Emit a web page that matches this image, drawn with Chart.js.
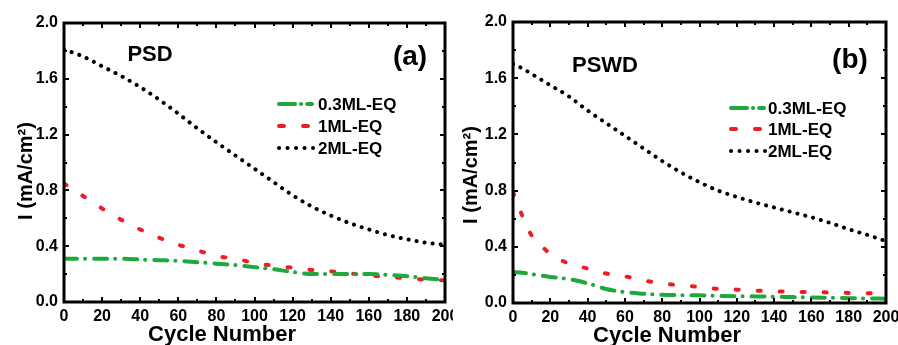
<!DOCTYPE html>
<html>
<head>
<meta charset="utf-8">
<script src="https://cdn.jsdelivr.net/npm/chart.js@4"></script>
<style>
  body { margin: 0; background: #fff; }
  #wrap { position: relative; width: 898px; height: 345px; overflow: hidden; background: #fff; }
  canvas { position: absolute; top: 0; }
  #chartA { left: 0; }
  #chartB { left: 450px; }
</style>
</head>
<body>
<div id="wrap">
  <canvas id="chartA" width="453" height="345"></canvas>
  <canvas id="chartB" width="448" height="345"></canvas>
</div>
<script>
// values
const seriesNames = ['0.3ML-EQ', '1ML-EQ', '2ML-EQ'];
const xTicks = [0, 20, 40, 60, 80, 100, 120, 140, 160, 180, 200];
const yTicks = [0, 0.4, 0.8, 1.2, 1.6, 2.0];

// (a) PSD
const cyclesA = [0, 10, 20, 30, 40, 50, 60, 70, 80, 90, 100, 110, 120, 130, 140, 150, 160, 170, 180, 190, 200];
const psd03 = [0.31, 0.31, 0.31, 0.31, 0.305, 0.30, 0.295, 0.285, 0.275, 0.265, 0.25, 0.235, 0.215, 0.20, 0.20, 0.20, 0.20, 0.195, 0.185, 0.17, 0.16];
const psd1 = [0.85, 0.76, 0.67, 0.59, 0.52, 0.46, 0.41, 0.37, 0.33, 0.31, 0.28, 0.26, 0.245, 0.23, 0.22, 0.205, 0.19, 0.18, 0.17, 0.16, 0.155];
const psd2 = [1.81, 1.76, 1.69, 1.62, 1.54, 1.45, 1.35, 1.245, 1.145, 1.05, 0.955, 0.86, 0.765, 0.685, 0.62, 0.565, 0.52, 0.48, 0.45, 0.425, 0.41];

// (b) PSWD
const cyclesB = [0, 5, 10, 15, 20, 30, 40, 50, 60, 70, 80, 90, 100, 110, 120, 130, 140, 150, 160, 170, 180, 190, 200];
const pswd03 = [0.22, 0.215, 0.205, 0.195, 0.185, 0.17, 0.14, 0.10, 0.077, 0.066, 0.058, 0.056, 0.055, 0.05, 0.048, 0.047, 0.045, 0.042, 0.04, 0.037, 0.034, 0.032, 0.031];
const pswd1 = [0.79, 0.62, 0.48, 0.41, 0.35, 0.28, 0.245, 0.21, 0.19, 0.16, 0.14, 0.125, 0.115, 0.10, 0.095, 0.088, 0.083, 0.08, 0.078, 0.075, 0.072, 0.07, 0.068];
const pswd2 = [1.70, 1.67, 1.63, 1.59, 1.55, 1.47, 1.37, 1.28, 1.19, 1.10, 1.01, 0.93, 0.86, 0.80, 0.755, 0.715, 0.68, 0.645, 0.61, 0.57, 0.525, 0.485, 0.44];

const FONT = "'Liberation Sans', Arial, sans-serif";

// line looks: green dash-dot, red dash, black dot
const styles = [
  { color: '#1fa83c', width: 4, dash: [13, 8, 0.1, 9], legendDash: [16, 6, 0.1, 6], legendLen: 33 },
  { color: '#ee1c24', width: 4, dash: [3, 19], legendDash: [5, 19], legendLen: 29 },
  { color: '#000000', width: 4, dash: [0.1, 8], legendDash: [0.1, 8.4], legendLen: 34 }
];

function makeSets(xs, ...cols) {
  return cols.map((col, i) => ({
    label: seriesNames[i],
    data: xs.map((x, j) => ({ x: x, y: col[j] })),
    borderColor: styles[i].color,
    borderWidth: styles[i].width,
    borderDash: styles[i].dash,
    borderCapStyle: 'round',
    pointRadius: 0,
    fill: false,
    tension: 0.4,
    cubicInterpolationMode: 'monotone'
  }));
}

function midpoints(arr) {
  const out = [];
  for (let i = 0; i < arr.length - 1; i++) out.push((arr[i] + arr[i + 1]) / 2);
  return out;
}

// frame with inward ticks on all four sides, plus texts and legend
const decorPlugin = {
  id: 'decor',
  afterDatasetsDraw(chart) {
    const { ctx, chartArea: a, scales: { x, y } } = chart;
    ctx.save();
    ctx.strokeStyle = '#000';
    ctx.lineWidth = 2;
    ctx.setLineDash([]);
    const tick = (x0, y0, x1, y1) => { ctx.beginPath(); ctx.moveTo(x0, y0); ctx.lineTo(x1, y1); ctx.stroke(); };
    const xs = [[xTicks, 5], [midpoints(xTicks), 3]];
    const ys = [[yTicks, 5], [midpoints(yTicks), 3]];
    xs.forEach(([vals, len]) => vals.forEach(v => {
      const px = Math.round(x.getPixelForValue(v));
      tick(px, a.bottom, px, a.bottom - len);
      tick(px, a.top, px, a.top + len);
    }));
    ys.forEach(([vals, len]) => vals.forEach(v => {
      const py = Math.round(y.getPixelForValue(v));
      tick(a.left, py, a.left + len, py);
      tick(a.right, py, a.right - len, py);
    }));
    ctx.lineWidth = 3;
    ctx.strokeRect(a.left, a.top, a.right - a.left, a.bottom - a.top);
    ctx.restore();
  },
  afterDraw(chart, args, o) {
    const ctx = chart.ctx;
    ctx.save();
    ctx.fillStyle = '#000';
    // axis titles
    ctx.font = 'bold 22px ' + FONT;
    ctx.textAlign = 'center';
    ctx.textBaseline = 'alphabetic';
    ctx.fillText('Cycle Number', o.xTitle[0], o.xTitle[1]);
    ctx.save();
    ctx.translate(o.yTitle[0], o.yTitle[1]);
    ctx.rotate(-Math.PI / 2);
    ctx.font = 'bold 20px ' + FONT;
    ctx.fillText('I (mA/cm²)', 0, 0);
    ctx.restore();
    // sample name and panel letter
    ctx.textBaseline = 'middle';
    ctx.font = 'bold 22px ' + FONT;
    ctx.fillText(o.tag, o.tagPos[0], o.tagPos[1]);
    ctx.font = 'bold 28px ' + FONT;
    ctx.fillText(o.letter, o.letterPos[0], o.letterPos[1]);
    // legend
    ctx.textAlign = 'left';
    ctx.font = 'bold 17px ' + FONT;
    chart.data.datasets.forEach((ds, i) => {
      const st = styles[i];
      const ly = o.legendRows[i];
      ctx.strokeStyle = st.color;
      ctx.lineWidth = st.width;
      ctx.lineCap = 'round';
      ctx.setLineDash(st.legendDash);
      ctx.beginPath();
      ctx.moveTo(o.legendX, ly);
      ctx.lineTo(o.legendX + st.legendLen, ly);
      ctx.stroke();
      ctx.fillText(ds.label, o.legendTextX, ly + 1);
    });
    ctx.restore();
  }
};

function makeChart(id, sets, pad, yWidth, xHeight, deco) {
  return new Chart(document.getElementById(id), {
    type: 'line',
    data: { datasets: sets },
    plugins: [decorPlugin],
    options: {
      responsive: false,
      animation: false,
      layout: { padding: pad },
      plugins: { legend: { display: false }, tooltip: { enabled: false }, decor: deco },
      scales: {
        x: {
          type: 'linear', min: 0, max: 200,
          grid: { display: false, drawTicks: false },
          border: { display: false },
          ticks: { color: '#000', font: { family: FONT, size: 16, weight: 'bold' }, padding: 5, maxRotation: 0, autoSkip: false },
          afterBuildTicks: s => { s.ticks = xTicks.map(v => ({ value: v })); },
          afterFit: s => { s.height = xHeight; s.paddingLeft = 0; s.paddingRight = 0; }
        },
        y: {
          min: 0, max: 2.0,
          grid: { display: false, drawTicks: false },
          border: { display: false },
          ticks: { color: '#000', font: { family: FONT, size: 16, weight: 'bold' }, padding: 6,
            callback: v => Number(v).toFixed(1) },
          afterBuildTicks: s => { s.ticks = yTicks.map(v => ({ value: v })); },
          afterFit: s => { s.width = yWidth; s.paddingTop = 0; s.paddingBottom = 0; }
        }
      }
    }
  });
}

makeChart('chartA', makeSets(cyclesA, psd03, psd1, psd2),
  { top: 23, right: 8, bottom: 0, left: 0 }, 64, 43,
  { xTitle: [222, 341], yTitle: [32, 171], tag: 'PSD', tagPos: [150, 55], letter: '(a)', letterPos: [410, 57],
    legendX: 279, legendTextX: 318, legendRows: [104, 126, 148] });

makeChart('chartB', makeSets(cyclesB, pswd03, pswd1, pswd2),
  { top: 22, right: 12, bottom: 0, left: 0 }, 63, 42,
  { xTitle: [217, 342], yTitle: [27, 175], tag: 'PSWD', tagPos: [155, 66], letter: '(b)', letterPos: [400, 60],
    legendX: 281, legendTextX: 318, legendRows: [108, 129, 151] });
</script>
</body>
</html>
